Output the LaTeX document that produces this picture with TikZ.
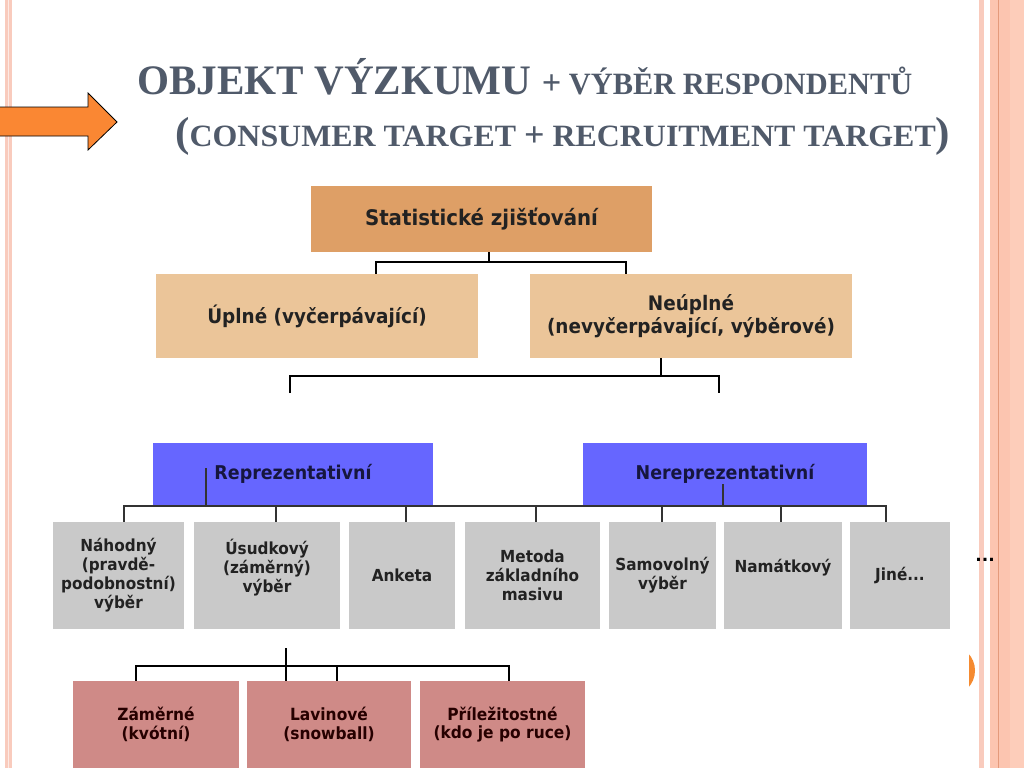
\documentclass[tikz,border=0pt]{standalone}
\usepackage{fontspec}
\usepackage{graphicx}
\setmainfont{DejaVu Sans}
\newfontfamily\titlefont{Liberation Serif}
\newfontfamily\boxfont[FakeStretch=0.92]{DejaVu Sans}
\definecolor{titlec}{HTML}{505A6A}
\definecolor{tanc}{HTML}{DE9F66}
\definecolor{peachc}{HTML}{EBC599}
\definecolor{bluec}{HTML}{6666FF}
\definecolor{bluetxt}{HTML}{16163E}
\definecolor{grayc}{HTML}{C9C9C9}
\definecolor{pinkc}{HTML}{CF8A87}
\definecolor{txtc}{HTML}{222222}
\definecolor{arrowc}{HTML}{FA8733}
\definecolor{salmon}{HTML}{FCC5B0}
\definecolor{salmonl}{HTML}{FDCDBA}
\definecolor{salmond}{HTML}{E49A7B}
\definecolor{pinkline}{HTML}{F9CBBD}
\definecolor{bulletc}{HTML}{F58A30}
\newcommand\bigc[1]{{\fontsize{42}{42}\selectfont #1}}
\newcommand\midc[1]{{\fontsize{35}{35}\selectfont #1}}
\newcommand\smc[1]{{\fontsize{31}{31}\selectfont #1}}
\tikzset{
  box/.style={draw=none, inner sep=0pt, align=center, text=txtc},
  tanbox/.style={box, fill=tanc, font=\boxfont\bfseries\fontsize{21.5}{25}\selectfont},
  peachbox/.style={box, fill=peachc, minimum width=322pt, minimum height=84pt, font=\boxfont\bfseries\fontsize{20}{23}\selectfont},
  bluebox/.style={box, fill=bluec, minimum height=62pt, text=bluetxt, font=\boxfont\bfseries\fontsize{19}{21}\selectfont},
  graybox/.style={box, fill=grayc, minimum height=107pt, font=\boxfont\bfseries\fontsize{16.6}{19}\selectfont},
  pinkbox/.style={box, fill=pinkc, minimum height=87pt, text=black!85!red, font=\boxfont\bfseries\fontsize{16.8}{18.5}\selectfont},
  conn/.style={draw=black, line width=1.2pt},
  conng/.style={draw=black!80, line width=1.3pt},
  titletext/.style={inner sep=0pt, text=titlec, font=\titlefont\bfseries}
}
\begin{document}
\begin{tikzpicture}[x=1pt, y=-1pt]
\fill[white] (0,0) rectangle (1024,768);
\useasboundingbox (0,0) rectangle (1024,768);
% page decorations
\fill[pinkline] (5,0) rectangle (12,768);
\fill[white!60!pinkline] (7.8,0) rectangle (9.2,768);
\fill[pinkline] (979,0) rectangle (983.5,768);
\fill[salmon] (989.5,0) rectangle (1024,768);
\fill[salmonl] (1010,0) rectangle (1024,768);
\draw[salmond, line width=1.2pt] (998.5,0) -- (998.5,768);
% arrow
\draw[fill=arrowc, draw=black, line width=0.8pt] (-2,107) -- (88,107) -- (88,93) -- (117,122) -- (88,150) -- (88,136) -- (-2,136) -- cycle;
% title
\node[titletext, anchor=base west] (title1) at (137,94)
  {\resizebox{775pt}{\height}{\bigc{OBJEKT VÝZKUMU }\midc{+}\smc{ VÝBĚR RESPONDENTŮ}}};
\node[titletext, anchor=base west] (title2) at (175,146)
  {\resizebox{775pt}{\height}{\bigc{(}\smc{CONSUMER TARGET }\midc{+}\smc{ RECRUITMENT TARGET}\bigc{)}}};
% level 1
\node[tanbox, minimum width=341pt, minimum height=66pt] (stat) at (481.5,219) {Statistické zjišťování};
% level 2
\node[peachbox] (upl) at (317,316) {Úplné (vyčerpávající)};
\node[peachbox] (neu) at (691,316) {Neúplné\\(nevyčerpávající, výběrové)};
% level 3
\node[bluebox, minimum width=280pt] (rep) at (293,474) {Reprezentativní};
\node[bluebox, minimum width=284pt] (nrep) at (725,474) {Nereprezentativní};
% level 4
\node[graybox, minimum width=131pt] (nah) at (118.5,575.5) {Náhodný\\(pravdě-\\podobnostní)\\výběr};
\node[graybox, minimum width=146pt] (usu) at (267,575.5) {Úsudkový\\(záměrný)\\výběr\\\phantom{X}};
\node[graybox, minimum width=106pt] (ank) at (402,575.5) {Anketa};
\node[graybox, minimum width=135pt] (met) at (532.5,575.5) {Metoda\\základního\\masivu};
\node[graybox, minimum width=107pt] (sam) at (662.5,575.5) {Samovolný\\výběr};
\node[graybox, minimum width=118pt] (nam) at (783,575.5) {Namátkový\\\phantom{X}};
\node[graybox, minimum width=100pt] (jin) at (900,575.5) {Jiné...};
% level 5
\node[pinkbox, minimum width=166pt] (zam) at (156,724.5) {Záměrné\\(kvótní)};
\node[pinkbox, minimum width=164pt] (lav) at (329,724.5) {Lavinové\\(snowball)};
\node[pinkbox, minimum width=165pt] (pri) at (502.5,724.5) {Příležitostné\\(kdo je po ruce)};
% right-edge remnants
\node[inner sep=0pt, anchor=base, font=\bfseries\fontsize{17}{17}\selectfont] (dots) at (985,561) {...};
\begin{scope}
\clip (969,630) rectangle (978,710);
\fill[bulletc] (950,670.5) circle (25);
\end{scope}
% connectors level 1 -> 2
\coordinate (j1) at (489,262);
\coordinate (t1) at (376,262);
\coordinate (t2) at (626,262);
\draw[conn] (stat.south -| j1) -- (j1);
\draw[conn] (upl.north -| t1) -- (t1) -- (t2) -- (neu.north -| t2);
% connectors level 2 -> 3
\coordinate (j2) at (661,376);
\coordinate (t3) at (290,376);
\coordinate (t4) at (719,376);
\coordinate (e3) at (290,393);
\coordinate (e4) at (719,393);
\draw[conn] (neu.south -| j2) -- (j2);
\draw[conn] (e3) -- (t3) -- (t4) -- (e4);
% connectors level 3 -> 4
\coordinate (busL) at (124,506);
\coordinate (busR) at (886,506);
\coordinate (r1) at (206,468);
\coordinate (r2) at (723,484);
\draw[conng] (r1) -- (r1 |- busL);
\draw[conng] (r2) -- (r2 |- busL);
\draw[conng] (nah.north -| busL) -- (busL) -- (busR) -- (jin.north -| busR);
\coordinate (b2) at (276,506);
\coordinate (b3) at (406,506);
\coordinate (b4) at (536,506);
\coordinate (b5) at (662,506);
\coordinate (b6) at (781,506);
\draw[conng] (b2) -- (usu.north -| b2);
\draw[conng] (b3) -- (ank.north -| b3);
\draw[conng] (b4) -- (met.north -| b4);
\draw[conng] (b5) -- (sam.north -| b5);
\draw[conng] (b6) -- (nam.north -| b6);
% connectors level 4 -> 5
\coordinate (s0) at (286,648);
\coordinate (h1) at (136,666);
\coordinate (h2) at (337,666);
\coordinate (h3) at (509,666);
\draw[conn] (s0) -- (zam.north -| s0);
\draw[conn] (zam.north -| h1) -- (h1) -- (h3) -- (pri.north -| h3);
\draw[conn] (h2) -- (lav.north -| h2);
\end{tikzpicture}
\end{document}
